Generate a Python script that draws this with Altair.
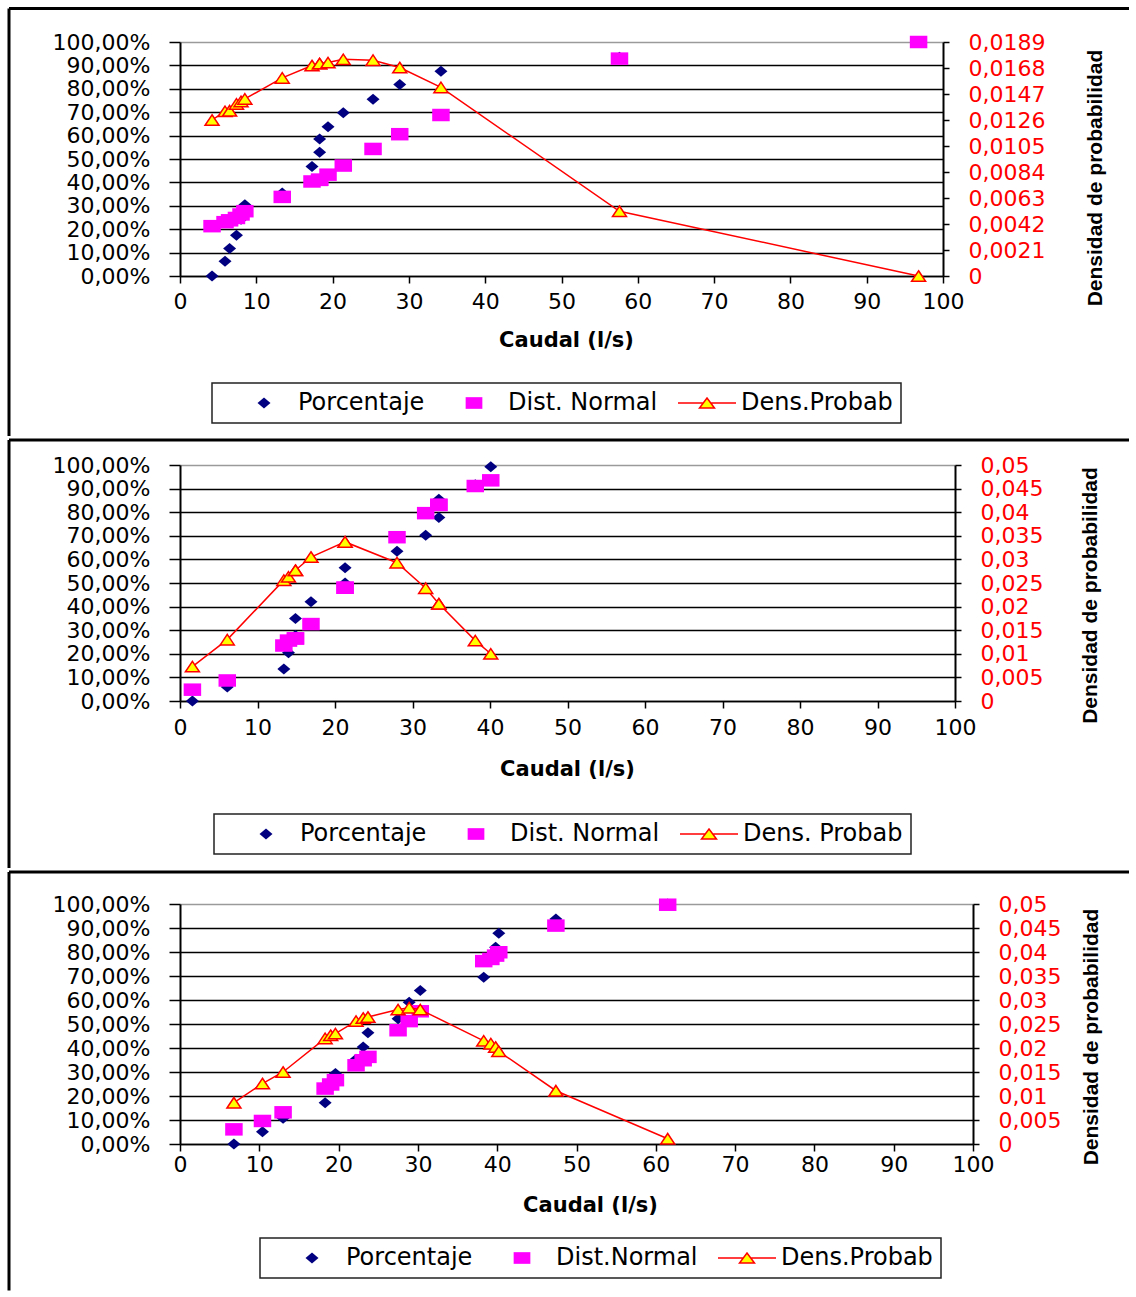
import altair as alt
import pandas as pd

# ---------------- data ----------------
# Panel 1
caudal_1 = [4.2, 5.9, 6.5, 7.4, 8.0, 8.5, 13.4, 17.3, 18.3, 18.3, 19.4, 21.4, 25.3, 28.8, 34.2, 57.6, 96.8]
porcentaje_1 = [0.0, 6.3, 11.8, 17.4, 24.2, 30.5, 35.5, 46.8, 52.9, 58.6, 63.8, 69.8, 75.5, 81.8, 87.5, 93.5, 100.0]
dist_normal_1 = [21.3, 23.0, 23.8, 24.8, 26.3, 27.7, 33.8, 40.4, 41.1, 41.1, 43.3, 47.2, 54.3, 60.6, 68.8, 92.9, 100.0]
dens_probab_1 = [0.0126, 0.0133, 0.01335, 0.0139, 0.0141, 0.0143, 0.0160, 0.0170, 0.01716, 0.01716,
                 0.01724, 0.0175, 0.01743, 0.01684, 0.01523, 0.00523, 0.0]

# Panel 2
caudal_2 = [1.6, 6.1, 13.4, 14.0, 14.9, 14.9, 16.9, 21.3, 21.3, 28.0, 31.7, 33.4, 33.4, 38.1, 40.1]
porcentaje_2 = [0.0, 5.9, 13.6, 20.4, 27.8, 35.0, 42.1, 50.0, 56.5, 63.5, 70.2, 77.8, 85.5, 91.6, 99.3]
dist_normal_2 = [4.8, 8.7, 23.5, 25.6, 26.5, 26.5, 32.6, 48.0, 48.0, 69.4, 79.6, 83.1, 83.1, 91.1, 93.5]
dens_probab_2 = [0.0073, 0.0130, 0.0256, 0.0263, 0.0277, 0.0277, 0.0305, 0.0337, 0.0337, 0.0293,
                 0.0239, 0.0206, 0.0206, 0.0128, 0.0100]

# Panel 3
caudal_3 = [6.8, 10.4, 13.0, 18.3, 19.0, 19.6, 22.2, 23.1, 23.7, 27.5, 28.9, 30.3, 38.3, 39.2, 39.8, 40.2, 47.4, 61.5]
porcentaje_3 = [0.0, 5.1, 10.7, 17.2, 23.5, 29.4, 35.3, 40.4, 46.4, 52.2, 59.1, 64.0, 69.5, 76.5, 82.0, 87.8, 93.8, 100.0]
dist_normal_3 = [6.1, 9.6, 13.2, 23.1, 24.8, 26.6, 32.8, 34.9, 36.3, 47.4, 51.2, 55.3, 76.2, 77.1, 78.5, 79.9, 91.0, 99.7]
dens_probab_3 = [0.0086, 0.0126, 0.0150, 0.0220, 0.02265, 0.0230, 0.0256, 0.02625, 0.02645, 0.0280,
                 0.0284, 0.0280, 0.0215, 0.0209, 0.0202, 0.0193, 0.0111, 0.0011]

# axis ticks / labels
x_ticks = [0, 10, 20, 30, 40, 50, 60, 70, 80, 90, 100]
pct_ticks = [0, 10, 20, 30, 40, 50, 60, 70, 80, 90, 100]
dens_ticks_1 = [0, 0.0021, 0.0042, 0.0063, 0.0084, 0.0105, 0.0126, 0.0147, 0.0168, 0.0189]
dens_ticks_23 = [0, 0.005, 0.01, 0.015, 0.02, 0.025, 0.03, 0.035, 0.04, 0.045, 0.05]

series_1 = ["Porcentaje", "Dist. Normal", "Dens.Probab"]
series_2 = ["Porcentaje", "Dist. Normal", "Dens. Probab"]
series_3 = ["Porcentaje", "Dist.Normal", "Dens.Probab"]

x_title = "Caudal (l/s)"
y2_title = "Densidad de probabilidad"

# ---------------- styles ----------------
NAVY = "#000080"
MAGENTA = "#FF00FF"
RED = "#FF0000"
YELLOW = "#FFFF00"
FONT = "DejaVu Sans"
TFONT = "Liberation Sans"

# marker shapes (unit = sqrt(size)/2 px)
DIAM = "M0,-1.1L1.3,0L0,1.1L-1.3,0Z"
SQ = "M-1.75,-1.25L1.75,-1.25L1.75,1.25L-1.75,1.25Z"
TRI = "M0,-1.05L1.4,1.05L-1.4,1.05Z"
# legend symbols (unit = 11 px)
LEG_DIAM = "M0,-0.5L0.59,0L0,0.5L-0.59,0Z"
LEG_SQ = "M-0.76,-0.53L0.76,-0.53L0.76,0.53L-0.76,0.53Z"
LEG_TRI = "M-2.64,0L-0.34,0M0.34,0L2.64,0M0,-0.45L0.68,0.45L-0.68,0.45Z"


def panel(caudal, pct, cdf, dens, series, dens_ticks, dens_max, w, h,
          xlab_pad, xtitle_x, xtitle_y, ytitle_x, ytitle_y, leg_x, leg_y,
          top_line, bottom_line):
    df = pd.DataFrame({"caudal": caudal, "pct": pct, "cdf": cdf, "dens": dens})
    base = alt.Chart(df)

    x_enc = alt.X(
        "caudal:Q",
        scale=alt.Scale(domain=[0, 100], nice=False, zero=False),
        axis=alt.Axis(
            values=x_ticks, labelFont=FONT, labelFontSize=22, labelColor="black",
            labelPadding=xlab_pad, labelFlush=False, labelOverlap=False,
            tickSize=7, tickColor="black", tickWidth=1.5,
            domain=True, domainColor="black", domainWidth=1.5, grid=False,
            title=x_title, titleFont=FONT, titleFontSize=21, titleFontWeight="bold",
            titleColor="black", titleX=xtitle_x, titleY=xtitle_y,
            titleAlign="center", titleBaseline="middle",
        ),
    )

    left_axis = alt.Axis(
        values=pct_ticks,
        labelExpr="replace(format(datum.value, '.2f'), '.', ',') + '%'",
        labelFont=FONT, labelFontSize=22, labelColor="black", labelPadding=19,
        labelOverlap=False, tickSize=11, tickColor="black", tickWidth=1.5,
        domainColor="black", domainWidth=2, grid=True,
        gridColor={"condition": {"test": "datum.value == 100", "value": "#9a9a9a"}, "value": "black"},
        gridWidth=1.5, title=None,
    )
    left_scale = alt.Scale(domain=[0, 100], nice=False)

    diam = base.mark_point(shape=DIAM, filled=True, color=NAVY, size=100, opacity=1).encode(
        x=x_enc, y=alt.Y("pct:Q", scale=left_scale, axis=left_axis)
    )
    sq = base.mark_point(shape=SQ, filled=True, color=MAGENTA, size=100, opacity=1).encode(
        x=x_enc, y=alt.Y("cdf:Q", scale=left_scale, axis=left_axis)
    )
    left = alt.layer(diam, sq)

    right_axis = alt.Axis(
        orient="right", values=dens_ticks,
        labelExpr="replace(format(datum.value, '~g'), '.', ',')",
        labelFont=FONT, labelFontSize=22, labelColor=RED, labelPadding=19,
        labelOverlap=False, tickSize=6, tickColor="black", tickWidth=1.5,
        domainColor="black", domainWidth=2, grid=False,
        title=y2_title, titleFont=TFONT, titleFontSize=21, titleFontWeight="bold",
        titleColor="black", titleAngle=270, titleX=ytitle_x, titleY=ytitle_y,
        titleAlign="center", titleBaseline="middle",
    )
    right_scale = alt.Scale(domain=[0, dens_max], nice=False)
    line = base.mark_line(color=RED, strokeWidth=1.5).encode(
        x=x_enc, y=alt.Y("dens:Q", scale=right_scale, axis=right_axis)
    )
    tri = base.mark_point(shape=TRI, filled=True, fill=YELLOW, stroke=RED, strokeWidth=1.5,
                          size=100, opacity=1).encode(
        x=x_enc, y=alt.Y("dens:Q", scale=right_scale, axis=right_axis)
    )
    right = alt.layer(line, tri)

    leg = alt.Legend(
        orient="none", legendX=leg_x, legendY=leg_y, direction="horizontal", title=None,
        labelFont=FONT, labelFontSize=24, labelColor="black", labelOffset=22,
        symbolSize=484, symbolStrokeWidth=1.5, symbolOffset=32, columnPadding=5, padding=8,
        strokeColor="#222222",
    )
    legend_layer = alt.Chart(pd.DataFrame({"serie": series})).transform_filter("false").mark_point(
        filled=True, opacity=1
    ).encode(
        fill=alt.Fill("serie:N", scale=alt.Scale(domain=series, range=[NAVY, MAGENTA, YELLOW]), legend=leg),
        stroke=alt.Stroke("serie:N", scale=alt.Scale(domain=series, range=["transparent", "transparent", RED]), legend=leg),
        shape=alt.Shape("serie:N", scale=alt.Scale(domain=series, range=[LEG_DIAM, LEG_SQ, LEG_TRI]), legend=leg),
    )

    deco = alt.Chart(pd.DataFrame({"k": [0]}))
    hline = deco.mark_rule(color="black", strokeWidth=3).encode(
        x=alt.value(-171), x2=alt.value(949), y=alt.value(top_line)
    )
    vline = deco.mark_rule(color="black", strokeWidth=3).encode(
        x=alt.value(-171), y=alt.value(top_line), y2=alt.value(bottom_line)
    )

    return alt.layer(left, right, legend_layer, hline, vline).resolve_scale(y="independent").properties(
        width=w, height=h
    )


p1 = panel(caudal_1, porcentaje_1, dist_normal_1, dens_probab_1, series_1, dens_ticks_1, 0.0189,
           763, 234, 8, 386, 64, 152, 135.5, 32, 341, -33.5, 394)
p2 = panel(caudal_2, porcentaje_2, dist_normal_2, dens_probab_2, series_2, dens_ticks_23, 0.05,
           775, 236, 9, 387, 68, 135, 130, 34, 349, -25, 403)
p3 = panel(caudal_3, porcentaje_3, dist_normal_3, dens_probab_3, series_3, dens_ticks_23, 0.05,
           793, 240, 3, 410, 61, 118, 132.5, 80, 334, -32, 386.5)

chart = alt.vconcat(p1, p2, p3, spacing=0).resolve_scale(
    x="independent", y="independent", fill="independent", stroke="independent", shape="independent"
).resolve_legend(
    fill="independent", stroke="independent", shape="independent"
).properties(
    padding={"left": 7, "top": 7, "right": 0, "bottom": 0}
).configure_view(stroke=None).configure_legend(strokeWidth=1.5)

chart.save("out.html", embed_options={"renderer": "svg", "actions": False})
